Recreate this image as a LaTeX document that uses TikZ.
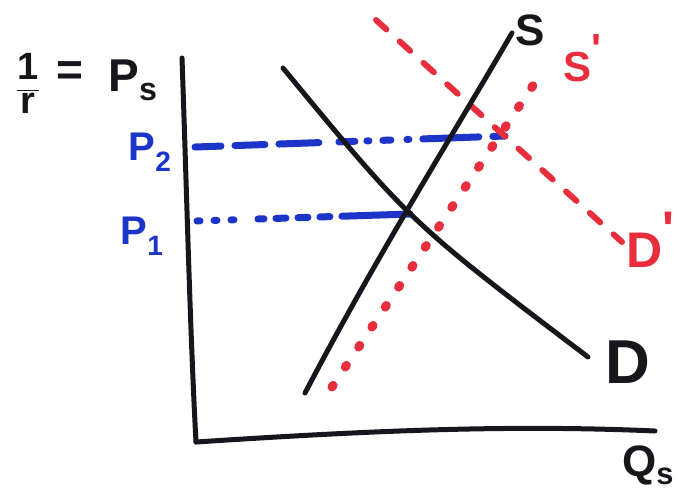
\documentclass[tikz,border=0pt]{standalone}
\usepackage{fontspec}
\setmainfont{Liberation Sans}
\definecolor{ink}{RGB}{22,22,28}
\definecolor{bink}{RGB}{28,52,200}
\definecolor{rink}{RGB}{232,45,60}
\newcommand{\fsz}[1]{\fontsize{#1}{#1}\selectfont}
\newcommand{\prm}{\raisebox{0.42em}{\textquotesingle}}
\begin{document}
\begin{tikzpicture}[x=1pt,y=-1pt, line cap=round, line join=round,
  axis/.style={ink,line width=5pt},
  curve/.style={ink,line width=5pt},
  blueline/.style={bink,line width=7pt},
  lab/.style={inner sep=0pt, anchor=center, font=\bfseries},
  blk/.style={lab,text=ink},
  blu/.style={lab,text=bink},
  rd/.style={lab,text=rink}]
\useasboundingbox (0,0) rectangle (678,491);
\fill[white] (0,0) rectangle (678,491);

% coordinates
\coordinate (Yt) at (182,58);
\coordinate (O) at (196,442);
\coordinate (Xr) at (655,431);
\coordinate (Dt) at (283,68);
\coordinate (Db) at (588,357);
\coordinate (Sb) at (305,393);
\coordinate (St) at (512,33);
\coordinate (Spb) at (332,387);
\coordinate (Spt) at (542,72);
\coordinate (Dpt) at (376,20);
\coordinate (Dpb) at (622,242);
\coordinate (P2l) at (195,147);
\coordinate (P2r) at (505,136);
\coordinate (P1l) at (197,221);
\coordinate (P1r) at (410,214);

% blue price lines
\draw[blueline, dash pattern=on 26pt off 14pt on 30pt off 14pt on 40pt off 20pt on 16pt off 12pt on 2pt off 14pt on 8pt off 16pt on 2pt off 14pt on 30pt off 0pt] (P2l) -- (P2r);
\draw[blueline, dash pattern=on 3pt off 14pt on 3pt off 14pt on 3pt off 24pt on 6pt off 12pt on 10pt off 12pt on 10pt off 12pt on 10pt off 12pt on 70pt off 0pt] (P1l) -- (P1r);

% red shifted curves
\draw[rink, line width=9pt, dash pattern=on 2pt off 22pt] (Spb) -- (Spt);
\draw[rink, line width=6pt, dash pattern=on 14pt off 18pt] (Dpt) -- (Dpb);

% axes
\draw[axis] (Yt) .. controls (187,200) and (190,330) .. (O);
\draw[axis] (O) .. controls (350,432) and (500,424) .. (Xr);

% supply and demand
\draw[curve] (Dt) .. controls (410,222) .. (Db);
\draw[curve] (Sb) .. controls (380,250) and (450,140) .. (St);

% labels
\node[blk] (lS) at (530,30) {\fsz{44}S};
\node[blk] (lD) at (628,362) {\fsz{62}D};
\node[blk] (lQ) at (648,465) {\fsz{44}Q\textsubscript{s}};
\node[rd] (lSp) at (582,58) {\fsz{42}S\prm};
\node[rd] (lDp) at (650,240) {\fsz{50}D\prm};
\node[blk] (frac) at (28,83) {\fsz{38}$\displaystyle{\mbox{\bfseries 1}\over\mbox{\bfseries r}}$};
\node[blk] (eq) at (70,74) {\fsz{46}=};
\node[blk] (lPs) at (133,80) {\fsz{46}P\textsubscript{s}};
\node[blu] (lP2) at (150,152) {\fsz{40}P\textsubscript{2}};
\node[blu] (lP1) at (142,236) {\fsz{40}P\textsubscript{1}};
\end{tikzpicture}
\end{document}
